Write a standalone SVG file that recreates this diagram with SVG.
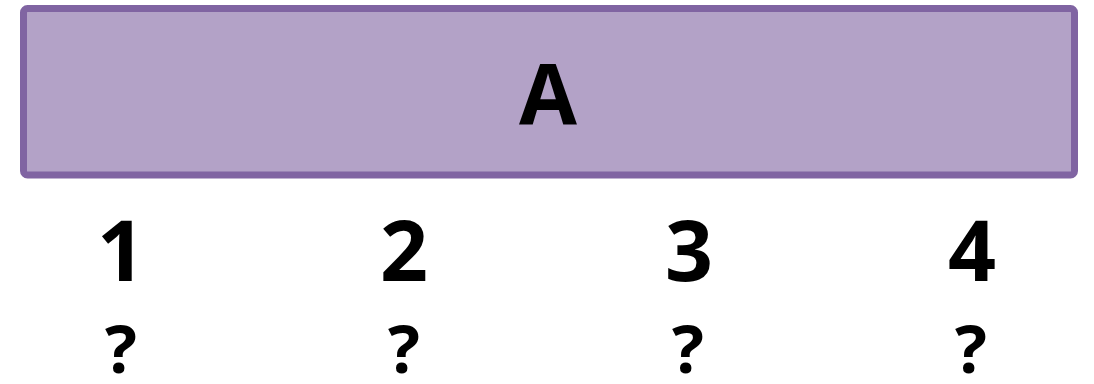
<svg xmlns="http://www.w3.org/2000/svg" width="1094" height="384" viewBox="0 0 1094 384">
<style>
.t{font-family:"Open Sans",Lato,"Liberation Sans",sans-serif;font-weight:bold;fill:#000;text-anchor:middle}
.n{font-size:84px}
.q{font-size:67px}
</style>
<rect width="1094" height="384" fill="#fff"/>
<g id="nodeA">
<rect x="23.5" y="8.5" width="1051" height="166.5" rx="4" fill="#b3a2c7" stroke="#8064a2" stroke-width="7"/>
<text class="t n" x="548" y="124">A</text>
</g>
<g id="col1"><text class="t n" x="121" y="281">1</text><text class="t q" x="121" y="373">?</text></g>
<g id="col2"><text class="t n" x="404" y="281">2</text><text class="t q" x="404" y="373">?</text></g>
<g id="col3"><text class="t n" x="689" y="281">3</text><text class="t q" x="688" y="373">?</text></g>
<g id="col4"><text class="t n" x="972" y="281">4</text><text class="t q" x="971" y="373">?</text></g>
<g id="connectors"></g>
</svg>
